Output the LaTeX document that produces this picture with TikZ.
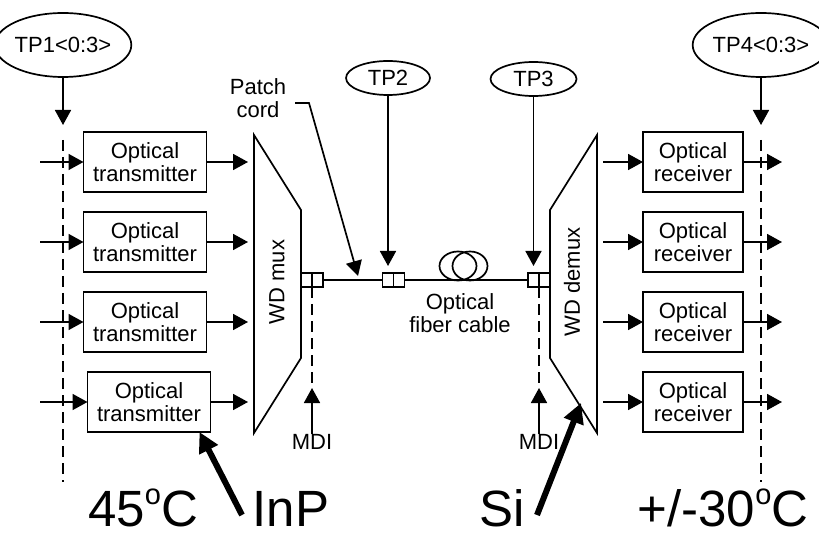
\documentclass[tikz,border=0pt]{standalone}
\usepackage{fontspec}
\setmainfont{Liberation Sans}
\usetikzlibrary{arrows.meta,calc,shapes.geometric}
\newcommand\degsup{\raisebox{21.5pt}{\fontsize{29}{29}\selectfont o}}
\begin{document}
\begin{tikzpicture}[x=1pt,y=-1pt,
  every node/.style={inner sep=0pt, outer sep=0pt},
  ln/.style={line width=1.7pt},
  arr/.style={ln,-{Triangle[length=15pt,width=16pt]}},
  box/.style={draw,line width=1.7pt,minimum width=123pt,minimum height=60pt,align=center,font=\fontsize{22}{23}\selectfont},
  rbox/.style={box,minimum width=100pt},
  tp/.style={draw,ellipse,line width=1.7pt,font=\fontsize{22}{24}\selectfont},
  lbl/.style={align=center,font=\fontsize{22}{23}\selectfont},
  big/.style={font=\fontsize{51}{51}\selectfont, anchor=base},
  dsh/.style={line width=1.7pt,dash pattern=on 11pt off 6pt},
  bigarr/.style={line width=6pt,-{Triangle[length=20pt,width=20pt]}},
  conn/.style={draw,line width=1.7pt,minimum width=11pt,minimum height=14pt}
]
\useasboundingbox (0,0) rectangle (819,537);
\fill[white] (0,0) rectangle (819,537);

% test point ellipses
\node[tp, minimum width=112pt, minimum height=64pt] (tp1) at (63,45) {TP1<0:3>};
\node[tp, minimum width=112pt, minimum height=64pt] (tp4) at (761,45) {TP4<0:3>};
\node[tp, minimum width=84pt, minimum height=34pt] (tp2) at (388,78) {TP2};
\node[tp, minimum width=86pt, minimum height=34pt] (tp3) at (533.5,79) {TP3};

% dashed TP1/TP4 lines
\coordinate (tp1t) at (63,125);
\coordinate (tp4t) at (761,125);
\draw[arr] (tp1.south) -- (tp1t);
\draw[arr] (tp4.south) -- (tp4t);
\draw[dsh] (63,140) -- (63,482);
\draw[dsh] (761,140) -- (761,482);

% transmitters
\node[box] (tx1) at (145,162) {Optical\\transmitter};
\node[box] (tx2) at (145,242) {Optical\\transmitter};
\node[box] (tx3) at (145,322) {Optical\\transmitter};
\node[box] (tx4) at (149,402) {Optical\\transmitter};
% receivers
\node[rbox] (rx1) at (693,162) {Optical\\receiver};
\node[rbox] (rx2) at (693,242) {Optical\\receiver};
\node[rbox] (rx3) at (693,322) {Optical\\receiver};
\node[rbox] (rx4) at (693,402) {Optical\\receiver};

\foreach \i/\y in {1/162,2/242,3/322,4/402}{
  \coordinate (a\i) at (40,\y);
  \coordinate (b\i) at (248,\y);
  \coordinate (c\i) at (603,\y);
  \coordinate (e\i) at (782,\y);
  \draw[arr] (a\i) -- (tx\i.west);
  \draw[arr] (tx\i.east) -- (b\i);
  \draw[arr] (c\i) -- (rx\i.west);
  \draw[arr] (rx\i.east) -- (e\i);
}

% mux / demux
\draw[ln] (254,135) -- (301,210) -- (301,358) -- (254,433) -- cycle;
\draw[ln] (597,135) -- (550,210) -- (550,358) -- (597,433) -- cycle;
\node[lbl, rotate=90] (mux) at (277,282) {WD mux};
\node[lbl, rotate=90] (demux) at (572,282) {WD demux};

% connectors
\node[conn] (m1) at (306.5,280) {};
\node[conn] (m2) at (317.5,280) {};
\node[conn] (p1) at (388,280) {};
\node[conn] (p2) at (399,280) {};
\node[conn] (d1) at (533.5,280) {};
\node[conn] (d2) at (544.5,280) {};
\draw[ln] (m2.east) -- (p1.west);
\draw[ln] (p2.east) -- (d1.west);

% coil
\node[draw,ellipse,line width=1.7pt,minimum width=37pt,minimum height=29pt] (coilA) at (458,266) {};
\node[draw,ellipse,line width=1.7pt,minimum width=35pt,minimum height=29pt] (coilB) at (470,266) {};

\draw[arr,shorten >=7pt] (tp2.south) -- (p1.north);
\draw[arr,shorten >=7pt] (tp3.south) -- (d1.north);

% patch cord
\node[lbl] (pc) at (258,98) {Patch\\cord};
\coordinate (pcs) at (295,103);
\coordinate (pcm) at (309,103);
\coordinate (pct) at (358,276);
\draw[arr] (pcs) -- (pcm) -- (pct);

\node[lbl] (ofc) at (460,313) {Optical\\fiber cable};

% MDI
\node[lbl] (mdi1) at (312,442) {MDI};
\node[lbl] (mdi2) at (539,442) {MDI};
\coordinate (mt1) at (312,388);
\coordinate (mt2) at (539,388);
\draw[dsh] (m1.south east) -- (mt1);
\draw[dsh] (d1.south east) -- (mt2);
\draw[arr] (mdi1.north) -- (mt1);
\draw[arr] (mdi2.north) -- (mt2);

% big labels
\node[big] (t45) at (143,526) {45\degsup C};
\node[big] (inp) at (291,526) {InP};
\node[big] (si) at (502,526) {Si};
\node[big] (t30) at (723,526) {+/-30\degsup C};
\coordinate (inpA) at (242,515);
\coordinate (siA) at (537,515);
\coordinate (siT) at (581,403);
\draw[bigarr] (inpA) -- ($(tx4.south east)+(-11,0)$);
\draw[bigarr] (siA) -- (siT);
\end{tikzpicture}
\end{document}
